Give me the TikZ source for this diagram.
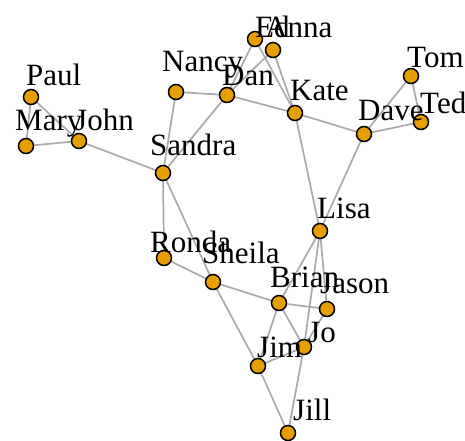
\documentclass[tikz,border=0pt]{standalone}
\usepackage{fontspec}
\setmainfont{Liberation Serif}
\usepackage{xcolor}
\usepackage{tikz}
\usetikzlibrary{positioning}

\definecolor{vfill}{RGB}{230,159,0}
\definecolor{egray}{RGB}{170,170,170}

\tikzset{
  vert/.style={circle,draw=black,fill=vfill,line width=1.5pt,minimum size=15pt,inner sep=0pt},
  vlabel/.style={anchor=base west,inner sep=0pt,font=\fontsize{31}{31}\selectfont},
  edge/.style={draw=egray,line width=1.7pt}
}

\begin{document}
\begin{tikzpicture}[x=1pt,y=-1pt]
\useasboundingbox (0,0) rectangle (465,440);
% people (pixel positions)
\foreach \x/\y/\n in {31/97/Paul,26/146/Mary,79/141/John,163/173/Sandra,176/92/Nancy,
  227/95/Dan,255/39/Ed,273/50/Anna,295/113/Kate,411/76/Tom,421/122/Ted,364/134/Dave,
  320/231/Lisa,164/258/Ronda,213/282/Sheila,279/303/Brian,327/309/Jason,304/347/Jo,
  258/366/Jim,288/433/Jill}
  \coordinate (\n) at (\x,\y);
% ties
\foreach \a/\b in {Paul/Mary,Paul/John,Mary/John,John/Sandra,Sandra/Nancy,Sandra/Dan,
  Nancy/Dan,Dan/Ed,Dan/Anna,Dan/Kate,Ed/Kate,Anna/Kate,Kate/Dave,Kate/Lisa,Dave/Tom,
  Dave/Ted,Tom/Ted,Dave/Lisa,Sandra/Ronda,Sandra/Sheila,Ronda/Sheila,Sheila/Brian,
  Sheila/Jim,Lisa/Brian,Lisa/Jason,Lisa/Jo,Brian/Jason,Brian/Jim,Brian/Jo,Jason/Jo,
  Jim/Jo,Jim/Jill,Jo/Jill}
  \draw[edge] (\a) -- (\b);
% vertices
\foreach \n in {Paul,Mary,John,Sandra,Nancy,Dan,Ed,Anna,Kate,Tom,Ted,Dave,Lisa,Ronda,
  Sheila,Brian,Jason,Jo,Jim,Jill}
  \node[vert] (\n-v) at (\n) {};
% names
\foreach \x/\y/\n in {26/85/Paul,15/130/Mary,75/130/John,150/155/Sandra,162/71/Nancy,
  222/85/Dan,255/37/Ed,265/37/Anna,290/100/Kate,407/67/Tom,420/113/Ted,358/120/Dave,
  317/218/Lisa,150/252/Ronda,202/263/Sheila,270/287/Brian,320/293/Jason,308/342/Jo,
  257/357/Jim,293/420/Jill}
  \node[vlabel] (\n-l) at (\x,\y) {\n};
\end{tikzpicture}
\end{document}
